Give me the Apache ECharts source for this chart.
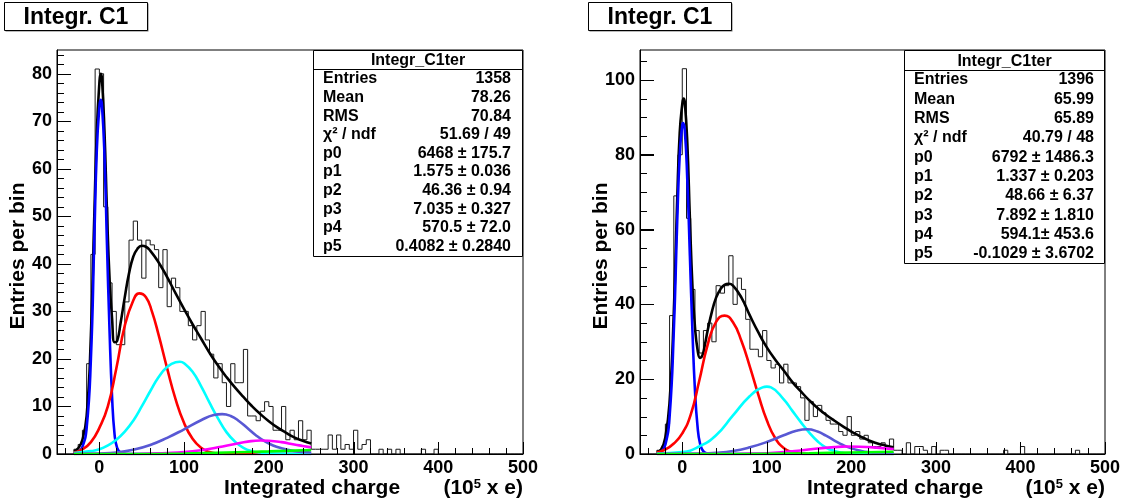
<!DOCTYPE html>
<html><head><meta charset="utf-8">
<script src="https://cdn.jsdelivr.net/npm/echarts@6/dist/echarts.min.js"></script>
<style>html,body{margin:0;padding:0;background:#fff}#c{width:1126px;height:504px}</style>
</head><body><div id="c"></div>
<script>
// ---------- data ----------
const binStart = -50, binWidth = 5;
const leftCounts = [
 0,0,0,0, 1,2,5,19,42,81,
 80,52,36,30,23,23,32,45,49,45,
 37,45,44,43,35,43,31,37,35,30,
 30,27,24,27,30,24,21,16,19,15,
 10,19,15,15,22,8,8,7,9,11,
 10,5,5,10,3,5,3,7,3,5,
 1,1,1,1,4,1,4,1,2,1,
 5,1,2,3,0,0,1,0,1,0,
 1,0,0,0,0,0,1,0,0,1,
 0,0,0,0,0,0,0,0,0,0, 0,0,0,0,0,0,0,0,0,0];
const rightCounts = [
 0,0,0,0, 1,1,8,37,69,80,
 103,63,44,33,27,33,35,30,45,43,
 45,53,40,47,44,36,28,28,26,33,
 25,23,24,19,24,19,19,18,15,9,
 14,10,13,11,9,8,8,6,5,10,
 5,6,4,5,3,2,2,3,2,4,
 1,1,0,3,0,2,2,1,0,2,
 0,1,1,0,0,0,0,0,0,0,
 0,0,0,0,0,0,1,0,0,0,
 2,0,0,0,0,0,0,0,0,0, 0,0,0,1,0,0,0,0,0,0];

// fit curves: [x, value]
const leftTotal = [[-30,0.6],[-25,1.2],[-20,3],[-15,8],[-10,25],[-6,50],[-3,68],[0,78],[1.5,80],[3,79],[6,68],[9,51],[12,37],[15,28.5],[18,23.5],[21,23.8],[25,27.5],[30,33],[35,38],[40,41.5],[45,43.2],[50,43.8],[55,43.6],[60,42.8],[70,40.3],[80,37.2],[90,33.8],[100,30.5],[110,27.3],[120,24.3],[130,21.3],[140,18.6],[150,16.2],[160,14],[170,12],[180,10.1],[190,8.4],[200,6.9],[210,5.6],[220,4.5],[230,3.5],[240,2.8],[250,2.2]];
const leftPed = [[-30,0.1],[-25,0.4],[-20,1.5],[-15,5.5],[-10,20],[-6,45],[-3,64],[0,73],[1.5,74.5],[3,73.5],[6,63],[9,44],[12,26],[15,12],[18,4],[21,1.3],[25,0.3],[30,0.05],[35,0],[250,0]];
const leftPe1 = [[-30,0.3],[-20,1],[-10,2.5],[0,5.5],[10,10],[20,18],[30,27],[40,32.3],[47,33.8],[55,33],[62,30],[70,25],[80,18],[90,11.5],[100,6.5],[110,3.2],[120,1.3],[130,0.4],[140,0.1],[150,0],[250,0]];
const leftPe2 = [[-30,0.2],[-10,0.6],[0,1],[10,1.8],[20,3],[30,4.7],[40,7],[50,10],[60,13.2],[70,16.2],[80,18.3],[90,19.3],[95,19.4],[100,19.1],[110,17.3],[120,14.3],[130,10.8],[140,7.5],[150,4.6],[160,2.6],[170,1.3],[180,0.6],[190,0.3],[200,0.1],[250,0]];
const leftPe3 = [[-30,0],[0,0.1],[20,0.3],[40,0.9],[60,1.9],[80,3.4],[100,5.2],[120,7.1],[135,8.2],[145,8.4],[155,8],[165,6.9],[175,5.4],[185,3.9],[195,2.7],[205,1.8],[215,1.2],[225,0.8],[235,0.5],[250,0.3]];
const leftPe4 = [[-30,0],[40,0],[60,0.1],[80,0.2],[100,0.4],[120,0.8],[140,1.4],[160,2.1],[175,2.6],[190,2.85],[200,2.8],[215,2.5],[230,2],[240,1.7],[250,1.4]];
const leftPe5 = [[-30,0],[50,0],[100,0.1],[150,0.3],[200,0.55],[250,0.85]];

const rightTotal = [[-30,0.5],[-25,1.2],[-20,4.5],[-15,14],[-10,38],[-6,68],[-3,86],[0,93.5],[1.5,95],[3,94],[6,83],[9,63],[12,45],[15,34],[18,28],[21,25.7],[24,26.5],[27,29.5],[30,33],[35,38],[40,41.8],[45,44],[50,45.2],[55,45.5],[60,45],[70,41.8],[80,37],[90,32.5],[100,28.5],[110,25.2],[120,22.3],[130,19.3],[140,16.8],[150,14.4],[160,12.3],[170,10.5],[180,8.9],[190,7.4],[200,6],[210,4.8],[220,3.7],[230,2.9],[240,2.3],[250,1.8]];
const rightPed = [[-30,0.1],[-25,0.5],[-20,2.5],[-15,10],[-10,33],[-6,62],[-3,80],[0,88],[1,88.5],[3,86.5],[6,73],[9,53],[12,33],[15,17],[18,7.5],[21,2.8],[25,0.7],[30,0.1],[35,0],[250,0]];
const rightPe1 = [[-30,0.4],[-20,1.2],[-10,2.8],[0,5.5],[10,10.5],[20,19.5],[30,29.2],[40,35.3],[50,37],[60,35.2],[70,30.2],[80,23.3],[90,15.8],[100,9],[110,4.2],[120,1.6],[130,0.5],[140,0.1],[150,0],[250,0]];
const rightPe2 = [[-30,0.1],[0,0.5],[20,2],[40,5],[60,10.3],[80,15.5],[95,17.8],[100,18],[105,17.8],[120,14.6],[130,11.6],[140,8.6],[150,5.8],[160,3.4],[170,1.7],[180,0.8],[190,0.3],[200,0.1],[250,0]];
const rightPe3 = [[-30,0],[20,0.1],[40,0.3],[60,0.8],[80,1.8],[100,3.2],[120,5],[135,6.2],[148,6.6],[160,6],[170,4.9],[180,3.6],[190,2.4],[200,1.5],[210,0.9],[220,0.5],[235,0.25],[250,0.1]];
const rightPe4 = [[-30,0],[60,0],[80,0.1],[100,0.2],[120,0.5],[140,0.95],[160,1.45],[180,1.85],[195,2],[210,1.95],[230,1.7],[250,1.3]];
const rightPe5 = [[-30,0],[80,0],[150,0.2],[200,0.4],[250,0.6]];

const xMajor = [0,100,200,300,400,500];
const xMinor = [-40,-20,20,40,60,80,120,140,160,180,220,240,260,280,320,340,360,380,420,440,460,480];
const yLeftMajor = [0,10,20,30,40,50,60,70,80];
const yLeftMinor = [2,4,6,8,12,14,16,18,22,24,26,28,32,34,36,38,42,44,46,48,52,54,56,58,62,64,66,68,72,74,76,78,82,84];
const yRightMajor = [0,20,40,60,80,100];
const yRightMinor = [5,10,15,25,30,35,45,50,55,65,70,75,85,90,95,105];

const statLabels = ['Entries','Mean','RMS','χ² / ndf','p0','p1','p2','p3','p4','p5'];
const leftStats = ['1358','78.26','70.84','51.69 / 49','6468 ± 175.7','1.575 ± 0.036','46.36 ± 0.94','7.035 ± 0.327','570.5 ± 72.0','0.4082 ± 0.2840'];
const rightStats = ['1396','65.99','65.89','40.79 / 48','6792 ± 1486.3','1.337 ± 0.203','48.66 ± 6.37','7.892 ± 1.810','594.1± 453.6','-0.1029 ± 3.6702'];
const histTitle = 'Integr_C1ter';
const padTitle = 'Integr. C1';
const yTitle = 'Entries per bin';
const xTitle = 'Integrated charge';

// ---------- chart ----------
const FONT = '"Liberation Sans", Arial, Helvetica, sans-serif';
const XMIN = -50, XMAX = 500;
function histPoints(counts){
  const pts = [];
  counts.forEach((c,i)=>pts.push([binStart + i*binWidth, c]));
  pts.push([binStart + counts.length*binWidth, 0]);
  return pts;
}
const panels = [
  {grid:{left:57, top:50, width:466, height:404}, ymax:85, yMaj:yLeftMajor, yMin:yLeftMinor, counts:leftCounts,
   curves:[leftTotal,leftPed,leftPe1,leftPe2,leftPe3,leftPe4,leftPe5]},
  {grid:{left:640, top:50, width:465, height:404}, ymax:108, yMaj:yRightMajor, yMin:yRightMinor, counts:rightCounts,
   curves:[rightTotal,rightPed,rightPe1,rightPe2,rightPe3,rightPe4,rightPe5]}
];
const curveColors = ['#000000','#0000ff','#ff0000','#00ffff','#5858d4','#ff00ff','#00ff00'];

const grids=[], xAxes=[], yAxes=[], series=[];
const labelStyle = {fontFamily:FONT, fontWeight:'bold', fontSize:18, color:'#000'};
panels.forEach((p,k)=>{
  grids.push(Object.assign({show:true, borderColor:'#000', borderWidth:1, containLabel:false, z:-10}, p.grid));
  xAxes.push({type:'value', gridIndex:k, min:XMIN, max:XMAX, position:'bottom', z:50,
    axisLine:{show:true, onZero:false, lineStyle:{color:'#000', width:1}},
    axisTick:{show:true, inside:true, length:12, customValues:xMajor, lineStyle:{color:'#000', width:1}},
    axisLabel:Object.assign({show:true, margin:5, customValues:xMajor}, labelStyle),
    splitLine:{show:false}});
  yAxes.push({type:'value', gridIndex:k, min:0, max:p.ymax, position:'left', z:50,
    axisLine:{show:true, onZero:false, lineStyle:{color:'#000', width:1}},
    axisTick:{show:true, inside:true, length:14, customValues:p.yMaj, lineStyle:{color:'#000', width:1}},
    axisLabel:Object.assign({show:true, margin:5, customValues:p.yMaj}, labelStyle),
    splitLine:{show:false}});
  series.push({type:'line', xAxisIndex:k, yAxisIndex:k, data:histPoints(p.counts), step:'end',
    showSymbol:false, symbol:'none', lineStyle:{color:'#1a1a1a', width:1}, z:2, silent:true});
  p.curves.forEach((c,j)=>{
    series.push({type:'line', xAxisIndex:k, yAxisIndex:k, data:c, smooth:0.5,
      showSymbol:false, symbol:'none', lineStyle:{color:curveColors[j], width:2.6}, z:3+j, silent:true});
  });
});

function statsBox(x, y, w, h, sep, rowY, vals, labelX, valueX){
  const els = [
    {type:'rect', shape:{x:x, y:y, width:w, height:h}, style:{fill:'#fff', stroke:'#000', lineWidth:1}, z:100},
    {type:'line', shape:{x1:x, y1:sep, x2:x+w, y2:sep}, style:{stroke:'#000', lineWidth:1}, z:101},
    {type:'text', x:x+w/2, y:(y+sep)/2+1, style:{text:histTitle, font:'bold 16px '+FONT, fill:'#000', textAlign:'center', textVerticalAlign:'middle'}, z:102}
  ];
  statLabels.forEach((l,i)=>{
    els.push({type:'text', x:labelX, y:rowY[0]+i*rowY[1], style:{text:l, font:'bold 16px '+FONT, fill:'#000', textAlign:'left', textVerticalAlign:'middle'}, z:102});
    els.push({type:'text', x:valueX, y:rowY[0]+i*rowY[1], style:{text:vals[i], font:'bold 16px '+FONT, fill:'#000', textAlign:'right', textVerticalAlign:'middle'}, z:102});
  });
  return els;
}
function titleBox(x, y, w, h){
  return [
    {type:'rect', shape:{x:x+1, y:y+1, width:w, height:h}, style:{fill:'#777'}, z:100},
    {type:'rect', shape:{x:x, y:y, width:w, height:h}, style:{fill:'#fff', stroke:'#000', lineWidth:1}, z:101},
    {type:'text', x:x+w/2, y:y+h/2+1, style:{text:padTitle, font:'bold 23px '+FONT, fill:'#000', textAlign:'center', textVerticalAlign:'middle'}, z:102}
  ];
}
function axisTitles(yx, yy, xx, xy, ux){
  return [
    {type:'text', x:yx, y:yy, rotation:Math.PI/2, style:{text:yTitle, font:'bold 21px '+FONT, fill:'#000', textAlign:'center', textVerticalAlign:'middle'}, z:102},
    {type:'text', x:xx, y:xy, style:{text:xTitle, font:'bold 21px '+FONT, fill:'#000', textAlign:'center', textVerticalAlign:'middle'}, z:102},
    {type:'text', x:ux, y:xy, style:{text:'(10{s|5} x e)', font:'bold 21px '+FONT, fill:'#000', textAlign:'right', textVerticalAlign:'middle',
      rich:{s:{font:'bold 13px '+FONT, fill:'#000', verticalAlign:'top', padding:[0,0,8,0]}}}, z:102}
  ];
}
// frame tick marks as plain graphic lines, positioned from the grid geometry and axis ranges
function frameTicks(p){
  const g = p.grid, els = [];
  const xp = v => g.left + (v - XMIN) / (XMAX - XMIN) * g.width;
  const yp = v => g.top + g.height - v / p.ymax * g.height;
  const seg = (x1,y1,x2,y2) => ({type:'line', silent:true, z:110,
    shape:{x1:x1, y1:y1, x2:x2, y2:y2}, style:{stroke:'#000', lineWidth:1}});
  const bottom = g.top + g.height, left = g.left;
  xMajor.forEach(v=>{ const x = Math.round(xp(v)) + 0.5; els.push(seg(x, bottom, x, bottom - 12)); });
  xMinor.forEach(v=>{ const x = Math.round(xp(v)) + 0.5; els.push(seg(x, bottom, x, bottom - 6)); });
  p.yMaj.forEach(v=>{ const y = Math.round(yp(v)) + 0.5; els.push(seg(left, y, left + 14, y)); });
  p.yMin.forEach(v=>{ const y = Math.round(yp(v)) + 0.5; els.push(seg(left, y, left + 7, y)); });
  return els;
}
const graphics = [].concat(
  frameTicks(panels[0]), frameTicks(panels[1]),
  titleBox(4.5, 2.5, 143, 28), titleBox(588.5, 2.5, 143, 28),
  statsBox(313.5, 50.5, 209, 206, 69.5, [79, 18.6], leftStats, 323, 511),
  statsBox(904.5, 50.5, 200, 213, 70.5, [80, 19.3], rightStats, 914, 1094),
  axisTitles(18, 256, 312, 488, 523),
  axisTitles(601, 256, 895, 488, 1105)
);

const chart = echarts.init(document.getElementById('c'), null, {renderer:'canvas'});
chart.setOption({animation:false, backgroundColor:'#fff', grid:grids, xAxis:xAxes, yAxis:yAxes, series:series, graphic:{elements:graphics}});
</script></body></html>
